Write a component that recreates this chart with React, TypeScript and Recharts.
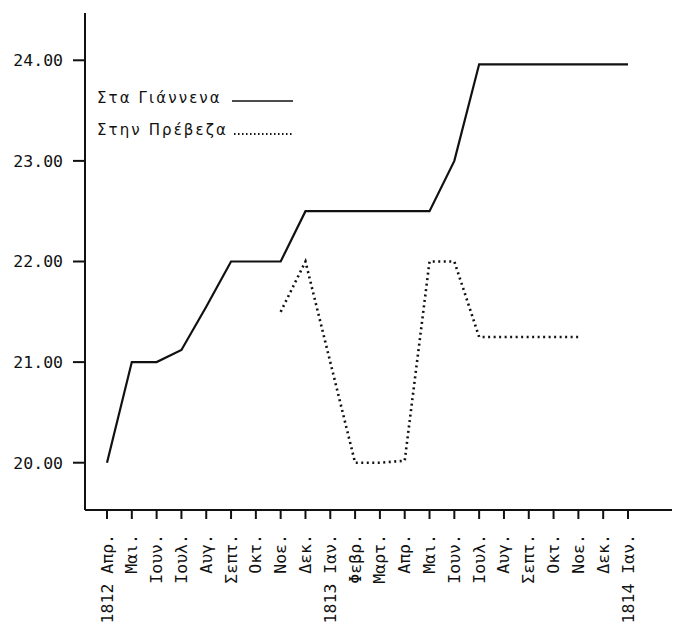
import { LineChart, Line, XAxis, YAxis } from 'recharts'

const MONTHS = [
  '1812 Απρ.', 'Μαι.', 'Ιουν.', 'Ιουλ.', 'Αυγ.', 'Σεπτ.', 'Οκτ.', 'Νοε.', 'Δεκ.',
  '1813 Ιαν.', 'Φεβρ.', 'Μαρτ.', 'Απρ.', 'Μαι.', 'Ιουν.', 'Ιουλ.', 'Αυγ.', 'Σεπτ.',
  'Οκτ.', 'Νοε.', 'Δεκ.', '1814 Ιαν.',
]

// Στα Γιάννενα
const IOANNINA = [
  20.0, 21.0, 21.0, 21.12, 21.55, 22.0, 22.0, 22.0, 22.5,
  22.5, 22.5, 22.5, 22.5, 22.5, 23.0, 23.96, 23.96, 23.96,
  23.96, 23.96, 23.96, 23.96,
]

// Στην Πρέβεζα
const PREVEZA = [
  null, null, null, null, null, null, null, 21.5, 22.0,
  21.0, 20.0, 20.0, 20.02, 22.0, 22.0, 21.25, 21.25, 21.25,
  21.25, 21.25, null, null,
]

const Y_TICKS = [20, 21, 22, 23, 24]

const data = MONTHS.map((m, i) => ({ month: m, ioannina: IOANNINA[i], preveza: PREVEZA[i] }))

const MONO = '"DejaVu Sans Mono", monospace'

function MonthTick({ x, y, payload }: any) {
  return (
    <text
      x={x}
      y={y}
      transform={`rotate(-90 ${x} ${y})`}
      textAnchor="end"
      dominantBaseline="central"
      fontFamily={MONO}
      fontSize={16.5}
      fill="#111"
    >
      {payload.value}
    </text>
  )
}

function LegendBox() {
  const row = { display: 'flex', alignItems: 'center', height: 32 }
  const label = {
    fontFamily: '"DejaVu Sans", sans-serif',
    fontSize: 15,
    letterSpacing: 2.1,
    color: '#111',
    width: 135,
    whiteSpace: 'nowrap' as const,
  }
  return (
    <div style={{ position: 'absolute', top: 82, left: 97, width: 220 }}>
      <div style={row}>
        <span style={label}>Στα Γιάννενα</span>
        <svg width={61} height={10}>
          <line x1={0} y1={8} x2={61} y2={8} stroke="#111" strokeWidth={1.5} />
        </svg>
      </div>
      <div style={row}>
        <span style={label}>Στην Πρέβεζα</span>
        <svg width={61} height={10}>
          <line x1={2} y1={9} x2={61} y2={9} stroke="#111" strokeWidth={2} strokeDasharray="1.5 2.5" />
        </svg>
      </div>
    </div>
  )
}

export default function App() {
  return (
    <div style={{ position: 'absolute', top: 0, left: 0, width: 674, height: 626, background: '#fff' }}>
      <LineChart width={674} height={626} data={data} margin={{ top: 13, right: 2, bottom: 0, left: 0 }}>
        <XAxis
          dataKey="month"
          height={116}
          padding={{ left: 22, right: 44 }}
          stroke="#111"
          strokeWidth={2}
          tickSize={9}
          tickMargin={15}
          interval={0}
          tick={<MonthTick />}
          tickLine={{ stroke: '#111', strokeWidth: 2 }}
        />
        <YAxis
          width={85}
          domain={[19.53, 24.47]}
          ticks={Y_TICKS}
          tickFormatter={(v: number) => v.toFixed(2)}
          stroke="#111"
          strokeWidth={2}
          tickSize={12}
          tickMargin={10}
          tick={{ fontFamily: MONO, fontSize: 16.5, fill: '#111' }}
          tickLine={{ stroke: '#111', strokeWidth: 2 }}
        />
        <Line
          type="linear"
          dataKey="ioannina"
          stroke="#111"
          strokeWidth={2.2}
          dot={false}
          isAnimationActive={false}
        />
        <Line
          type="linear"
          dataKey="preveza"
          stroke="#111"
          strokeWidth={2.6}
          strokeDasharray="2 3.5"
          dot={false}
          connectNulls={false}
          isAnimationActive={false}
        />
      </LineChart>
      <LegendBox />
    </div>
  )
}
